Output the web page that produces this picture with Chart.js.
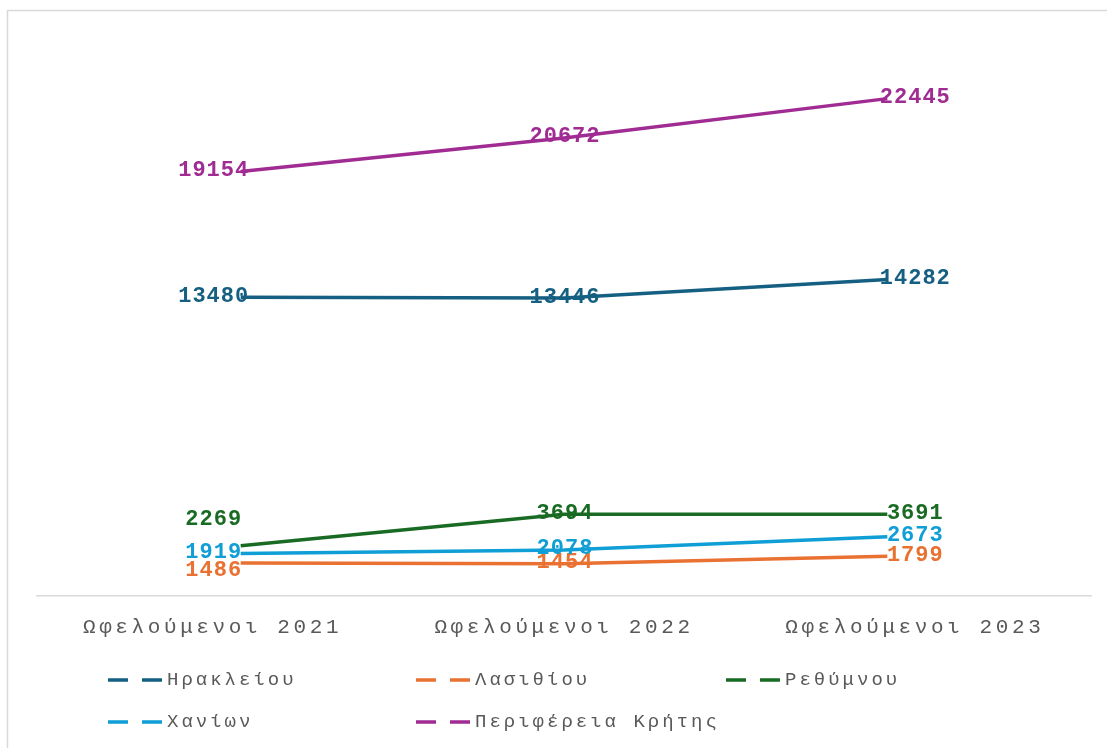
<!DOCTYPE html>
<html>
<head>
<meta charset="utf-8">
<script src="https://cdn.jsdelivr.net/npm/chart.js@4"></script>
<style>
  body { margin: 0; background: #fff; }
  canvas { display: block; }
</style>
</head>
<body>
<canvas id="beneficiariesChart" width="1107" height="748"></canvas>
<script>
// Categories and series values
const categories = ['Ωφελούμενοι 2021', 'Ωφελούμενοι 2022', 'Ωφελούμενοι 2023'];
const seriesNames = ['Ηρακλείου', 'Λασιθίου', 'Ρεθύμνου', 'Χανίων', 'Περιφέρεια Κρήτης'];
const heraklion = [13480, 13446, 14282];
const lasithi = [1486, 1454, 1799];
const rethymno = [2269, 3694, 3691];
const chania = [1919, 2078, 2673];
const creteTotal = [19154, 20672, 22445];

const seriesValues = [heraklion, lasithi, rethymno, chania, creteTotal];
const seriesColors = ['#156082', '#E97132', '#196B24', '#0F9ED5', '#A02B93'];

// label nudges (px), per category index, plus a couple of vertical fixes
const labelDx = [-28, 0, 27];
const labelDy = { '2-0': -25, '1-0': 8, '1-1': 0 };
// category tick labels sit slightly outside the outer points
const tickShift = [-0.087, 0, 0.085];

const textGrey = '#595959';

// draws the frame, data labels and the two-row legend
const decorPlugin = {
    id: 'decor',
    beforeDraw(chart) {
        const ctx = chart.ctx;
        ctx.save();
        ctx.strokeStyle = '#d9d9d9';
        ctx.lineWidth = 1.5;
        ctx.beginPath();
        ctx.moveTo(7.5, 748);
        ctx.lineTo(7.5, 10.5);
        ctx.lineTo(1107, 10.5);
        ctx.stroke();
        ctx.restore();
        // spaced-out letters for the category ticks
        ctx.letterSpacing = '3.6px';
    },
    afterDraw(chart) {
        const ctx = chart.ctx;
        ctx.letterSpacing = '0px';

        // data labels
        ctx.save();
        ctx.font = 'bold 22px "Liberation Mono", "Courier New", monospace';
        ctx.letterSpacing = '1px';
        ctx.textAlign = 'center';
        ctx.textBaseline = 'middle';
        chart.data.datasets.forEach((ds, di) => {
            const meta = chart.getDatasetMeta(di);
            meta.data.forEach((pt, i) => {
                const dy = labelDy[di + '-' + i] || 0;
                ctx.fillStyle = ds.borderColor;
                ctx.fillText(String(ds.data[i].y), pt.x + labelDx[i] + 1, pt.y + dy - 1);
            });
        });
        ctx.restore();

        // legend
        ctx.save();
        ctx.font = '19px "Liberation Mono", "Courier New", monospace';
        ctx.letterSpacing = '3px';
        ctx.textBaseline = 'middle';
        ctx.textAlign = 'left';
        const colX = [108, 416, 726];
        const rowY = [680, 722];
        chart.data.datasets.forEach((ds, di) => {
            const x = colX[di % 3];
            const y = rowY[Math.floor(di / 3)];
            ctx.strokeStyle = ds.borderColor;
            ctx.lineWidth = 3.5;
            ctx.beginPath();
            ctx.moveTo(x, y);
            ctx.lineTo(x + 20, y);
            ctx.moveTo(x + 34, y);
            ctx.lineTo(x + 54, y);
            ctx.stroke();
            ctx.fillStyle = textGrey;
            ctx.fillText(ds.label, x + 59, y);
        });
        ctx.restore();
    }
};

function initChart() {
    const ctx = document.getElementById('beneficiariesChart').getContext('2d');
    return new Chart(ctx, {
        type: 'line',
        data: {
            datasets: seriesNames.map((name, i) => ({
                label: name,
                data: seriesValues[i].map((v, j) => ({ x: j, y: v })),
                borderColor: seriesColors[i],
                backgroundColor: seriesColors[i],
                borderWidth: 3.5,
                pointRadius: 0,
                tension: 0,
                fill: false
            }))
        },
        options: {
            responsive: false,
            animation: false,
            layout: { padding: { left: 37, right: 16, top: 42, bottom: 0 } },
            plugins: {
                legend: { display: false },
                tooltip: { enabled: false }
            },
            scales: {
                x: {
                    type: 'linear',
                    min: -0.63,
                    max: 2.63,
                    afterBuildTicks: (scale) => {
                        scale.ticks = categories.map((c, i) => ({ value: i + tickShift[i] }));
                    },
                    afterFit: (scale) => { scale.height = 152; },
                    grid: { display: false, drawTicks: false },
                    border: { display: true, color: '#d9d9d9', width: 1.5 },
                    ticks: {
                        autoSkip: false,
                        maxRotation: 0,
                        padding: 19,
                        color: textGrey,
                        font: { family: '"Liberation Mono", "Courier New", monospace', size: 21 },
                        callback: (v, i) => categories[i]
                    }
                },
                y: {
                    display: false,
                    min: 0,
                    max: 25000
                }
            }
        },
        plugins: [decorPlugin]
    });
}

initChart();
</script>
</body>
</html>
